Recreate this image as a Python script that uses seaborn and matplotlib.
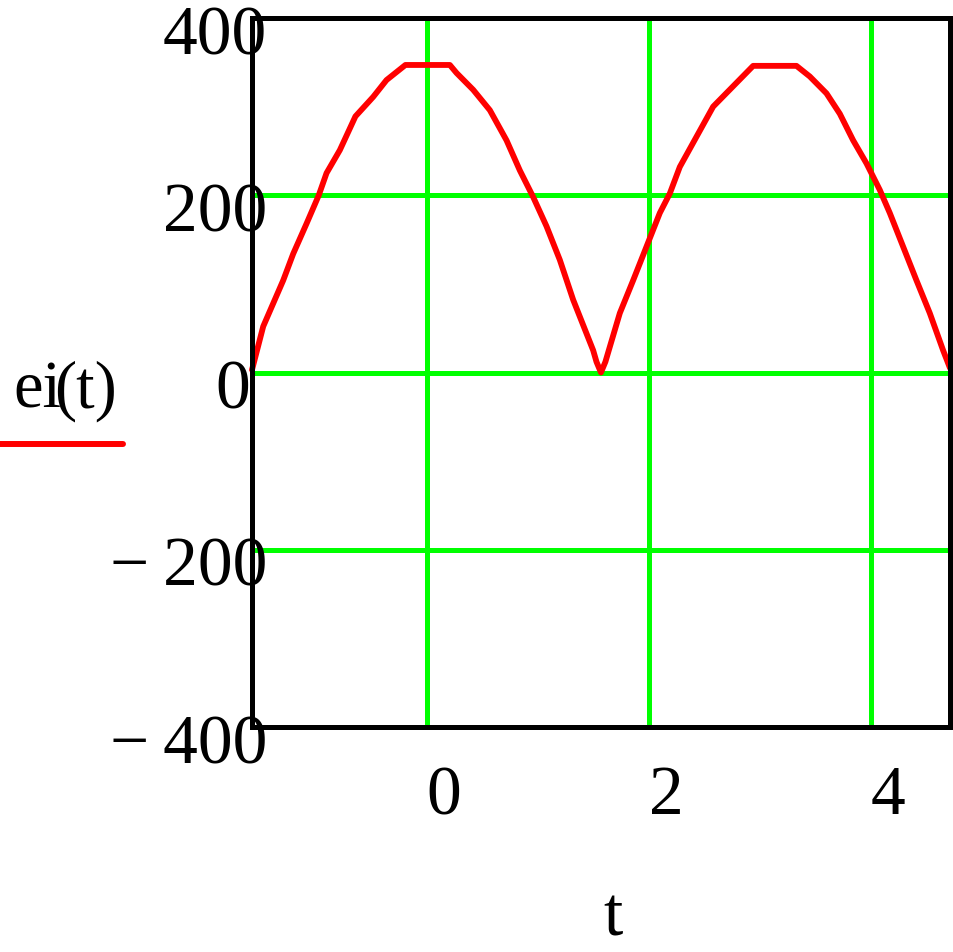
import matplotlib
matplotlib.use("Agg")
import matplotlib.pyplot as plt
import matplotlib.transforms as mtransforms
from matplotlib.lines import Line2D
import seaborn as sns
import pandas as pd

# === Data ===
t_vals = [-1.571, -1.47, -1.38, -1.29, -1.20, -1.08, -0.97, -0.90, -0.78, -0.64,
          -0.48, -0.36, -0.19, 0.21, 0.27, 0.42, 0.57, 0.72, 0.84, 0.96,
          1.08, 1.20, 1.32, 1.44, 1.50, 1.53, 1.57, 1.61, 1.65,
          1.74, 1.86, 1.98, 2.10, 2.19, 2.28, 2.43, 2.58, 2.76, 2.94,
          3.33, 3.45, 3.60, 3.72, 3.84, 3.96, 4.08, 4.17, 4.29, 4.41,
          4.53, 4.65, 4.712]
ei_vals = [3, 52, 78, 104, 134, 168, 200, 225, 251, 289,
           311, 330, 347, 347, 338, 319, 296, 262, 228, 198,
           165, 127, 82, 44, 25, 12, 0, 12, 29,
           67, 104, 142, 180, 202, 232, 266, 300, 323, 346,
           346, 334, 315, 292, 262, 236, 206, 180, 142, 104,
           67, 25, 5]
x_ticks = [0, 2, 4]
y_ticks = [-400, -200, 0, 200, 400]

df = pd.DataFrame({"t": t_vals, "ei": ei_vals})

sns.set_style("white")
plt.rcParams["font.family"] = ["Liberation Serif", "DejaVu Serif"]

W, H = 954, 952
fig = plt.figure(figsize=(W / 100, H / 100), dpi=100)
ax = fig.add_axes([252 / W, 1 - 727 / H, 698 / W, 709 / H])

sns.lineplot(data=df, x="t", y="ei", ax=ax, color="#ff0000", linewidth=4.2,
             clip_on=False, zorder=5)

ax.set_xlim(-1.571, 4.712)
ax.set_ylim(-400, 400)
ax.set_xticks(x_ticks)
ax.set_yticks(y_ticks)
ax.set_xticklabels([str(v) for v in x_ticks])
ax.set_yticklabels([str(v).replace("-", "\u2212\u2009") for v in y_ticks])
ax.set_xlabel("")
ax.set_ylabel("")

ax.grid(True, color="#00ff00", linewidth=3.6)
ax.set_axisbelow(True)
for sp in ax.spines.values():
    sp.set_visible(True)
    sp.set_color("black")
    sp.set_linewidth(3.6)
    sp.set_zorder(6)

ax.tick_params(axis="both", length=0, labelsize=50, colors="black")
ax.tick_params(axis="y", pad=-10.8)
ax.tick_params(axis="x", pad=28)

# y labels sit a bit low, x labels start at the tick
down = mtransforms.ScaledTranslation(0, -12 / 100, fig.dpi_scale_trans)
for lab, v in zip(ax.get_yticklabels(), y_ticks):
    tr = lab.get_transform() + down
    if v == 0:
        tr = tr + mtransforms.ScaledTranslation(-17 / 100, 0, fig.dpi_scale_trans)
    lab.set_transform(tr)
for lab in ax.get_xticklabels():
    lab.set_horizontalalignment("left")

# axis label "t"
fig.text(613 / W, 1 - 935 / H, "t", fontsize=50, color="black",
         ha="center", va="baseline")

# trace label with red line sample
fig.text(13 / W, 1 - 408 / H, "ei", fontsize=48, color="black",
         ha="left", va="baseline")
fig.text(54 / W, 1 - 408 / H, "(t)", fontsize=48, color="black",
         ha="left", va="baseline")
fig.add_artist(Line2D([0, 123 / W], [1 - 444 / H, 1 - 444 / H],
                      color="#ff0000", linewidth=4.3, transform=fig.transFigure))

fig.savefig("out.png", dpi=100)
